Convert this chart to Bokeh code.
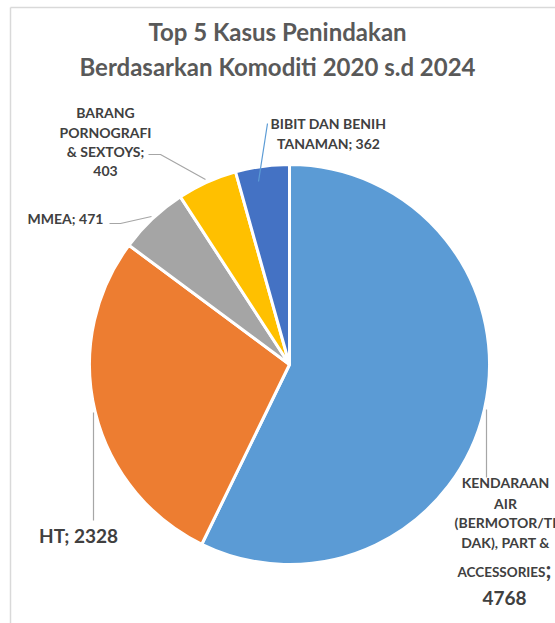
import numpy as np
from bokeh.plotting import figure
from bokeh.models import Range1d
from bokeh.core.properties import value
from bokeh.embed import file_html
from bokeh.resources import INLINE

# ---- data ----
categories = ["KENDARAAN AIR (BERMOTOR/TIDAK), PART & ACCESSORIES", "HT", "MMEA",
              "BARANG PORNOGRAFI & SEXTOYS", "BIBIT DAN BENIH TANAMAN"]
counts = [4768, 2328, 471, 403, 362]
colors = ["#5B9BD5", "#ED7D31", "#A5A5A5", "#FFC000", "#4472C4"]
title_lines = ["Top 5 Kasus Penindakan", "Berdasarkan Komoditi 2020 s.d 2024"]

W, H = 555, 623
FONT = "Lato"

def X(sx):
    return sx

def Y(sy):
    return H - sy

p = figure(width=W, height=H, x_range=Range1d(0, W), y_range=Range1d(0, H),
           output_backend="svg", toolbar_location=None, min_border=0)
p.axis.visible = False
p.grid.visible = False
p.outline_line_color = None
p.background_fill_color = "white"

# frame (chart area border)
p.line([X(10), X(10)], [Y(7), Y(623)], line_color="#D9D9D9", line_width=1.5)
p.line([X(10), X(555)], [Y(7), Y(7)], line_color="#D9D9D9", line_width=1.5)

# title
for i, t in enumerate(title_lines):
    p.text(x=[X(277)], y=[Y([31, 66][i])], text=[t], text_font=value(FONT),
           text_font_style="bold", text_font_size="24px", text_color="#595959",
           text_align="center", text_baseline="middle")

# pie
total = float(sum(counts))
cum = np.cumsum([0] + counts)
starts = [np.pi / 2 - 2 * np.pi * cum[i] / total for i in range(len(counts))]
ends = [np.pi / 2 - 2 * np.pi * cum[i + 1] / total for i in range(len(counts))]
cx, cy, r = X(289), Y(364), 200
p.wedge(x=cx, y=cy, radius=r, start_angle=starts, end_angle=ends, direction="clock",
        fill_color=colors, line_color="white", line_width=3)

# leader lines
lg = "#A6A6A6"
p.line([X(258), X(267)], [Y(181), Y(123)], line_color="#5B9BD5", line_width=1.2)
p.line([X(148), X(160), X(205)], [Y(154), Y(154), Y(179)], line_color=lg, line_width=1.2)
p.line([X(109), X(120), X(151)], [Y(223), Y(223), Y(216)], line_color=lg, line_width=1.2)
p.line([X(93), X(93)], [Y(412), Y(520)], line_color=lg, line_width=1.2)
p.line([X(486), X(486)], [Y(409), Y(477)], line_color=lg, line_width=1.2)

lc = "#404040"

def label(x, y, t, size="14px", align="center"):
    p.text(x=[X(x)], y=[Y(y)], text=[t], text_font=value(FONT), text_font_style="bold",
           text_font_size=size, text_color=lc, text_align=align, text_baseline="middle")

# labels
bibit = ["BIBIT DAN BENIH", "TANAMAN; " + str(counts[4])]
for i, t in enumerate(bibit):
    label(328, [123, 143][i], t)

porn = ["BARANG", "PORNOGRAFI", "& SEXTOYS;", str(counts[3])]
for i, t in enumerate(porn):
    label(105, [112, 132, 151, 170][i], t)

label(65, 218, "MMEA; " + str(counts[2]))
label(78, 535, "HT; " + str(counts[1]), "19px")

kend = ["KENDARAAN", "AIR", "(BERMOTOR/TI", "DAK), PART &"]
for i, t in enumerate(kend):
    label(505, [482, 503, 522, 542][i], t)
label(545, 571, "ACCESSORIES", "13.5px", "right")
label(545, 569, ";", "22px", "left")
label(504, 597, str(counts[0]), "19px")

open("out.html", "w").write(file_html(p, INLINE))
